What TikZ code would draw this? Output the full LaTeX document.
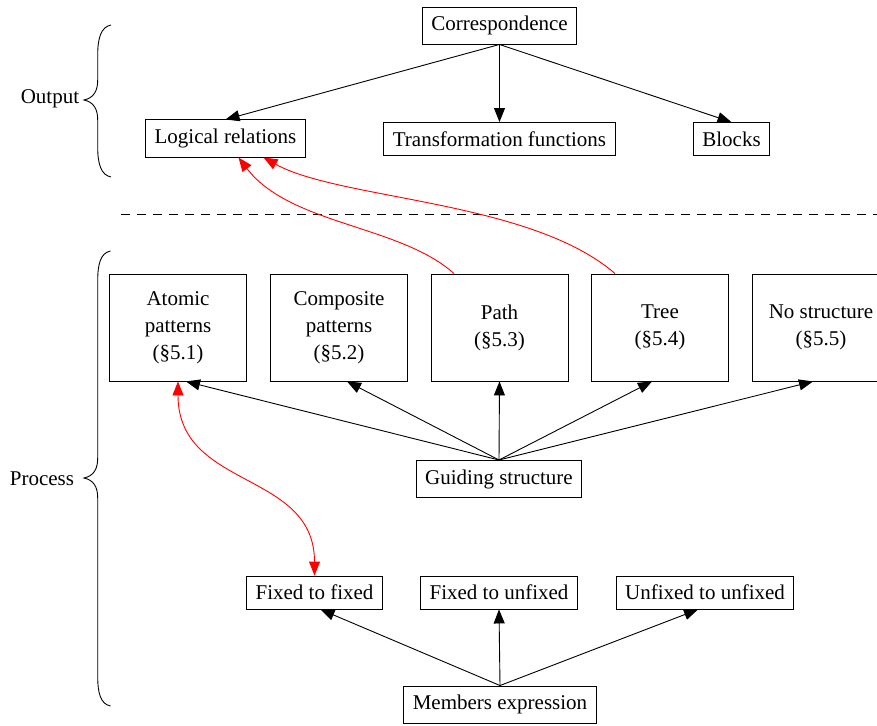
\documentclass[tikz,border=0pt]{standalone}
\usepackage{fontspec}
\setmainfont{Liberation Serif}
\usetikzlibrary{arrows.meta}
\tikzset{
  box/.style={draw, line width=0.9pt, inner sep=9pt, font=\fontsize{21}{27}\selectfont},
  bigbox/.style={box, minimum width=137pt, minimum height=107pt, align=center},
  lbl/.style={font=\fontsize{21}{27}\selectfont, inner sep=0pt},
  arr/.style={line width=0.9pt, -{Triangle[length=14pt,width=11pt]}},
  redarr/.style={line width=0.9pt, red, -{Triangle[length=14pt,width=11pt]}},
  redboth/.style={line width=0.9pt, red, {Triangle[length=14pt,width=11pt]}-{Triangle[length=14pt,width=11pt]}},
  bracepath/.style={line width=0.9pt},
}
\begin{document}
\begin{tikzpicture}[x=1pt,y=-1pt]
\useasboundingbox (0,0) rectangle (877,725);
\clip (0,0) rectangle (877,725);

% Output section
\node[box] (corr) at (499.5,25.5) {Correspondence};
\node[box] (logic) at (225.5,138.5) {Logical relations};
\node[box] (trans) at (499.5,139) {Transformation functions};
\node[box] (blocks) at (731.5,139) {Blocks};

\draw[arr] (corr.south) -- (logic.north);
\draw[arr] (corr.south) -- (trans.north);
\draw[arr] (corr.south) -- (blocks.north);

% dashed separator
\coordinate (d1) at (121,214.5);
\coordinate (d2) at (877,214.5);
\draw[line width=0.9pt, dash pattern=on 9pt off 7pt] (d1) -- (d2);

% Process section
\node[bigbox] (atomic) at (178,327.5) {Atomic\\patterns\\(§5.1)};
\node[bigbox] (comp) at (339,327.5) {Composite\\patterns\\(§5.2)};
\node[bigbox] (pathn) at (499.5,327.5) {Path\\(§5.3)};
\node[bigbox] (tree) at (660,327.5) {Tree\\(§5.4)};
\node[bigbox] (nostr) at (821,327.5) {No structure\\(§5.5)};

\node[box] (guide) at (499,479) {Guiding structure};

\draw[arr] (guide.north) -- ([xshift=8pt]atomic.south);
\draw[arr] (guide.north) -- ([xshift=8pt]comp.south);
\draw[arr] (guide.north) -- (pathn.south);
\draw[arr] (guide.north) -- ([xshift=-8pt]tree.south);
\draw[arr] (guide.north) -- ([xshift=-8pt]nostr.south);

\node[box] (ff) at (314.5,592.5) {Fixed to fixed};
\node[box] (fu) at (499,592.5) {Fixed to unfixed};
\node[box] (uu) at (705,592.5) {Unfixed to unfixed};
\node[box] (members) at (500,704.5) {Members expression};

\draw[arr] (members.north) -- ([xshift=6pt]ff.south);
\draw[arr] (members.north) -- (fu.south);
\draw[arr] (members.north) -- ([xshift=-7pt]uu.south);

% red connectors
\draw[redarr] ([xshift=-45.5pt]pathn.north) .. controls (400,225) and (290,225) .. ([xshift=13pt]logic.south);
\draw[redarr] ([xshift=-45pt]tree.north) .. controls (530,200) and (340,200) .. ([xshift=38pt]logic.south);
\draw[redboth] (atomic.south) .. controls (178,490) and (314.5,470) .. (ff.north);

% braces and labels
\draw[bracepath] (111,25) .. controls (101,27) and (97.7,38) .. (97.7,55)
  -- (97.7,80) .. controls (97.7,92) and (93,98) .. (84,100)
  .. controls (93,102) and (97.7,108) .. (97.7,120)
  -- (97.7,147) .. controls (97.7,164) and (101,175) .. (111,177);
\node[lbl] (outlbl) at (50,99) {Output};

\draw[bracepath] (110.5,251) .. controls (100.5,253) and (97.7,264) .. (97.7,281)
  -- (97.7,458) .. controls (97.7,470) and (93,476) .. (84,478)
  .. controls (93,480) and (97.7,486) .. (97.7,498)
  -- (97.7,676) .. controls (97.7,693) and (100.5,704) .. (110.5,706);
\node[lbl] (proclbl) at (42,479) {Process};
\end{tikzpicture}
\end{document}
